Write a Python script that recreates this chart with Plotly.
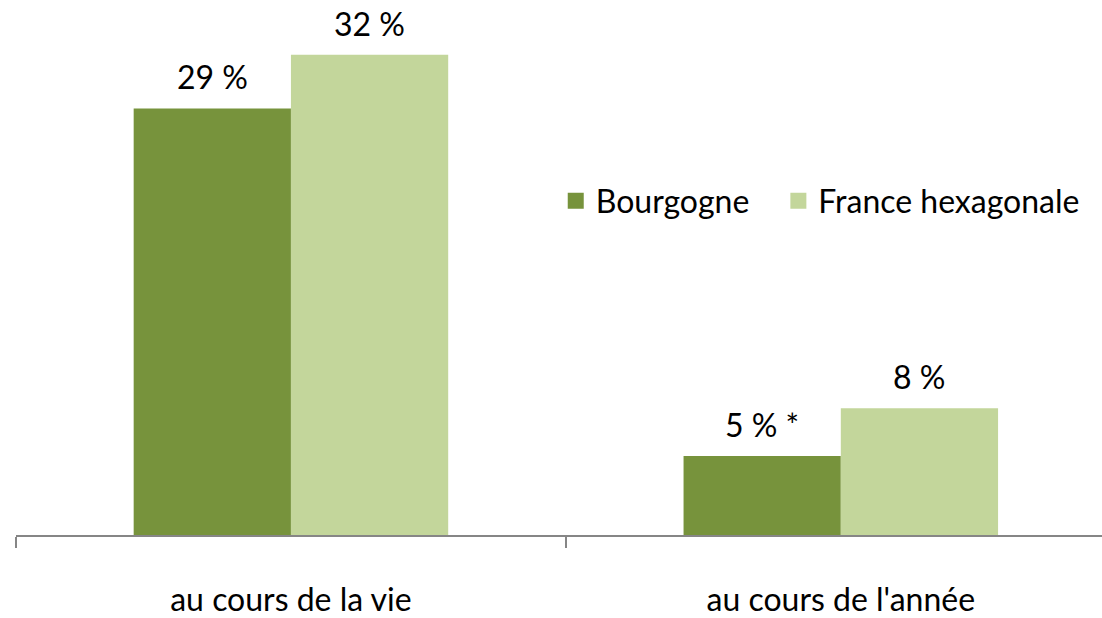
import plotly.graph_objs as go

# data
categories = ["au cours de la vie", "au cours de l'année"]
bourgogne = [28.6, 5.3]
france = [32.2, 8.5]
bourgogne_labels = ["29 %", "5 % *"]
france_labels = ["32 %", "8 %"]

font_name = "Lato, Calibri, sans-serif"
dark_green = "#77933C"
light_green = "#C3D69B"
bargap = 0.428

data = [
    go.Bar(x=categories, y=bourgogne, name="Bourgogne",
           marker=dict(color=dark_green, line=dict(width=0)), showlegend=False),
    go.Bar(x=categories, y=france, name="France hexagonale",
           marker=dict(color=light_green, line=dict(width=0)), showlegend=False),
    # legend entries with bigger square symbols, one legend each for spacing
    go.Scatter(x=[None], y=[None], mode="markers", name="Bourgogne", legend="legend",
               marker=dict(symbol="square", size=18, color=dark_green)),
    go.Scatter(x=[None], y=[None], mode="markers", name="France hexagonale", legend="legend2",
               marker=dict(symbol="square", size=18, color=light_green)),
]

# value labels above the bars
half = (1 - bargap) / 4
annotations = []
for i, cat in enumerate(categories):
    for vals, labels, off in [(bourgogne, bourgogne_labels, -half), (france, france_labels, half)]:
        annotations.append(dict(
            x=i + off, y=vals[i], xref="x", yref="y",
            text=labels[i], showarrow=False,
            xanchor="center", yanchor="bottom", yshift=10,
            font=dict(size=32, color="#000000", family=font_name),
        ))

legend_style = dict(
    orientation="h",
    y=0.64,
    xanchor="left", yanchor="middle",
    font=dict(size=32, family=font_name),
    bgcolor="rgba(0,0,0,0)",
    itemsizing="trace",
)

layout = go.Layout(
    width=1102,
    height=618,
    margin={'l': 16, 'r': 0, 't': 13, 'b': 72, 'pad': 0},
    paper_bgcolor="white",
    plot_bgcolor="white",
    barmode="group",
    bargap=bargap,
    bargroupgap=0,
    font=dict(family=font_name, size=32, color="#000000"),
    showlegend=True,
    legend=dict(x=0.497, **legend_style),
    legend2=dict(x=0.702, **legend_style),
    annotations=annotations,
    xaxis=dict(
        type="category",
        range=[-0.5, 1.475],
        showline=True,
        linecolor="#868686",
        linewidth=1.5,
        ticks="outside",
        tickson="boundaries",
        ticklen=11,
        tickcolor="#868686",
        tickwidth=1.5,
        ticklabelstandoff=36,
        tickfont=dict(size=32, family=font_name),
        showgrid=False,
        fixedrange=True,
    ),
    yaxis=dict(
        range=[0, 35],
        visible=False,
        showgrid=False,
        zeroline=False,
        fixedrange=True,
    ),
)

fig = go.Figure(data=data, layout=layout)
fig.write_html("out.html", config={"displayModeBar": False},
               post_script="document.body.style.margin='0';")
